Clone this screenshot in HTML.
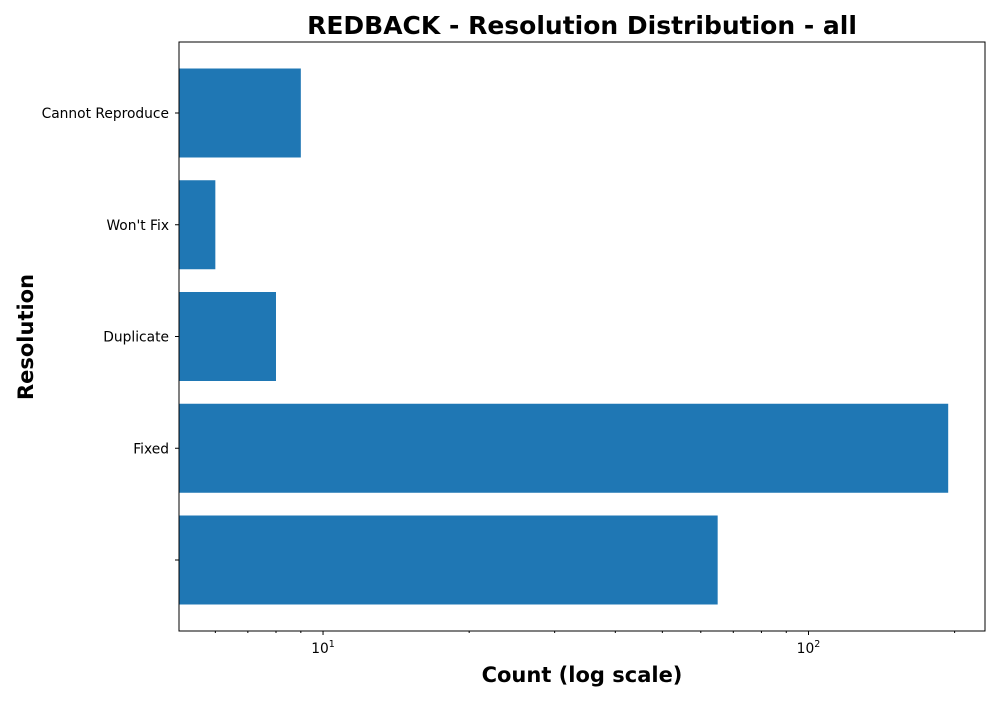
<!DOCTYPE html>
<html><head><meta charset="utf-8"><style>body{margin:0;background:#fff}svg{font-family:"DejaVu Sans","Liberation Sans",sans-serif}</style></head>
<body>
<svg id="c" width="1000" height="700" xmlns="http://www.w3.org/2000/svg">
<text x="582" y="34" text-anchor="middle" font-size="25" font-weight="bold">REDBACK - Resolution Distribution - all</text>
<text x="582" y="682" text-anchor="middle" font-size="21" font-weight="bold">Count (log scale)</text>
<text transform="translate(33,337) rotate(-90)" text-anchor="middle" font-size="21" font-weight="bold">Resolution</text>
<g id="plot"></g>
</svg>
<script>
const categories=["Cannot Reproduce","Won't Fix","Duplicate","Fixed",""];
const counts=[9,6,8,194,65];
const majorTicks=[10,100];
const minorTicks=[6,7,8,9,20,30,40,50,60,70,80,90,200];
const L=179,R=985,T=42,B=631,xmin=5.05,xmax=231;
const ns="http://www.w3.org/2000/svg";
const g=document.getElementById('plot');
function X(v){return L+(Math.log10(v)-Math.log10(xmin))/(Math.log10(xmax)-Math.log10(xmin))*(R-L);}
const step=111.75;
function Y(i){return 113+step*i;}
function mk(t,a){const e=document.createElementNS(ns,t);for(const k in a)e.setAttribute(k,a[k]);g.appendChild(e);return e;}
categories.forEach((c,i)=>{
  const r=mk('rect',{x:L,y:Y(i)-44.5,width:X(counts[i])-L,height:89,fill:'#1f77b4'});
  
  
  const tk=mk('line',{x1:L-4,x2:L,y1:Y(i),y2:Y(i),stroke:'#000'});
  
  
  const t=mk('text',{x:L-10,y:Y(i)+5,'text-anchor':'end','font-size':13.8});
  t.textContent=c;
  
  
});
majorTicks.forEach(v=>{
  const tk=mk('line',{x1:X(v),x2:X(v),y1:B,y2:B+4,stroke:'#000'});
  
  
  const t=mk('text',{x:X(v),y:B+22,'text-anchor':'middle','font-size':13.8});
  t.innerHTML='10<tspan dy="-6" font-size="9.5">'+Math.round(Math.log10(v))+'</tspan>';
  
  
});
minorTicks.forEach(v=>{
  const tk=mk('line',{x1:X(v),x2:X(v),y1:B,y2:B+2,stroke:'#000'});
  
  
});
const f=mk('rect',{x:L,y:T,width:R-L,height:B-T,fill:'none',stroke:'#000'});


</script>
</body></html>
